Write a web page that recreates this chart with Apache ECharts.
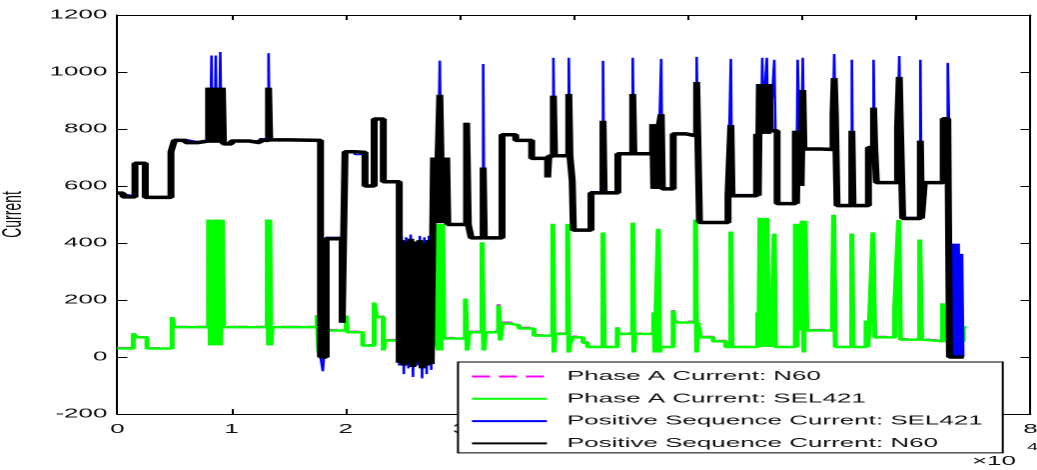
<!DOCTYPE html>
<html><head><meta charset="utf-8">
<script src="https://cdn.jsdelivr.net/npm/echarts@6/dist/echarts.min.js"></script>
<style>
html,body{margin:0;padding:0;background:#fff;overflow:hidden;}
#wrap{width:1037px;height:470px;overflow:hidden;position:relative;background:#fff;}
#chart{width:519px;height:470px;transform:scaleX(1.998073);transform-origin:0 0;}
</style></head><body>
<div id="wrap"><div id="chart"></div></div>
<script>
// ---- data (x in units of 10^4) ----
const xTicks = [0, 1, 2, 3, 4, 5, 6, 7, 8];
const yTicks = [-200, 0, 200, 400, 600, 800, 1000, 1200];
const seriesNames = ['Phase A Current: N60', 'Phase A Current: SEL421', 'Positive Sequence Current: SEL421', 'Positive Sequence Current: N60'];

// positive-sequence step points: x where a level starts
const posX = [0.00,0.05,0.155,0.245,0.47,0.50,0.60,0.70,0.80,0.815,0.825,0.835,0.845,0.855,0.862,0.872,0.882,0.892,0.902,0.912,0.92,0.93,1.00,1.15,1.25,1.325,1.335,1.50,1.78,1.80,1.81,1.83,1.97,1.995,2.08,2.17,2.25,2.33,2.47,2.49,2.51,2.53,2.55,2.57,2.59,2.61,2.63,2.65,2.67,2.69,2.71,2.73,2.75,2.77,2.78,2.79,2.80,2.81,2.825,2.835,2.85,2.86,2.875,2.885,2.895,3.06,3.075,3.10,3.205,3.215,3.37,3.49,3.63,3.77,3.78,3.82,3.83,3.955,3.965,3.985,3.995,4.15,4.255,4.265,4.385,4.515,4.525,4.69,4.70,4.71,4.72,4.73,4.74,4.75,4.765,4.775,4.87,4.98,5.075,5.085,5.10,5.35,5.375,5.385,5.60,5.615,5.625,5.64,5.65,5.66,5.675,5.69,5.70,5.71,5.72,5.755,5.765,5.78,5.94,5.95,5.96,5.975,5.99,6.005,6.015,6.16,6.27,6.28,6.29,6.305,6.435,6.445,6.58,6.625,6.635,6.65,6.835,6.85,6.86,6.88,7.035,7.045,7.07,7.235,7.275,7.285,7.29,7.30,7.31,7.32,7.33,7.34,7.35,7.36,7.37,7.38,7.385,7.395,7.40,7.41,7.415];
const posSeqN60 = [575,562,680,560,720,760,752,758,945,752,945,752,945,752,945,752,945,752,945,752,945,748,758,752,760,945,762,760,0,0,0,415,120,720,718,600,835,615,-20,410,-30,405,-25,415,-35,405,-20,410,-40,400,-30,410,-25,700,470,700,470,700,920,700,470,700,470,700,465,822,465,418,665,418,780,760,697,630,705,917,706,923,706,618,445,576,829,576,713,923,713,817,590,817,590,817,590,817,852,590,783,776,965,776,472,566,814,566,783,566,958,783,958,783,958,958,783,958,794,794,794,538,794,538,794,794,600,937,730,728,852,979,852,531,794,531,735,875,735,612,805,983,805,486,759,486,612,836,836,836,0,0,0,0,0,0,0,0,0,0,0,0,0,0,0];
const posSeqSEL421 = [572,566,678,563,722,763,756,761,945,752,1058,752,945,752,1058,752,945,752,1070,752,945,752,761,757,766,1066,765,762,0,-50,0,420,120,722,710,603,838,618,-30,425,-60,420,-40,430,-70,330,-30,425,-75,420,-60,425,-45,700,470,700,470,700,1040,700,470,700,470,700,468,822,468,421,1028,421,783,758,700,630,707,1050,708,1050,708,618,448,580,1039,580,716,1050,716,817,590,817,590,817,590,817,1046,593,786,780,1053,780,475,570,1046,570,783,566,958,783,1050,783,958,1050,783,958,794,1043,794,541,794,538,1043,794,600,1050,733,732,852,1063,852,535,1043,535,735,1043,735,615,805,1056,805,490,1043,490,615,836,1032,836,398,0,398,0,398,0,398,0,398,0,362,0,362,0,0];

// phase A step points
const phaseX = [0.00,0.14,0.17,0.26,0.48,0.495,0.80,0.815,0.83,0.845,0.86,0.875,0.89,0.905,0.92,0.93,1.315,1.325,1.335,1.345,1.355,1.50,1.51,1.75,1.765,1.78,1.83,2.005,2.015,2.15,2.25,2.27,2.33,2.345,2.47,2.80,2.81,2.82,2.835,2.85,2.86,3.05,3.065,3.08,3.195,3.21,3.225,3.34,3.355,3.37,3.45,3.52,3.65,3.815,3.825,3.835,3.945,3.955,3.965,3.99,4.08,4.12,4.255,4.265,4.38,4.39,4.515,4.525,4.535,4.70,4.71,4.72,4.74,4.75,4.76,4.87,4.88,5.065,5.075,5.085,5.11,5.22,5.33,5.375,5.385,5.61,5.62,5.63,5.645,5.66,5.675,5.69,5.705,5.715,5.73,5.755,5.765,5.94,5.955,5.965,5.98,6.00,6.015,6.025,6.04,6.265,6.275,6.29,6.435,6.445,6.56,6.575,6.59,6.62,6.635,6.81,6.845,6.86,7.03,7.045,7.06,7.23,7.26,7.41,7.44];
const phaseASEL421 = [30,83,69,30,140,105,482,41,482,41,482,41,482,41,482,105,482,41,482,41,105,100,105,146,16,105,93,145,87,40,191,140,23,58,40,467,23,467,23,467,65,205,23,87,402,23,87,181,58,117,110,100,75,467,16,81,467,16,48,69,50,35,437,35,104,81,471,16,81,156,16,156,450,16,35,163,121,482,16,121,69,55,35,440,35,156,35,488,35,488,35,488,35,156,35,433,35,467,35,467,93,478,16,478,93,174,499,35,433,35,128,35,128,437,69,170,480,61,412,61,55,188,55,104,104];
const phaseAN60 = [32,83,70,31,140,106,482,41,482,41,482,41,482,41,482,106,482,41,482,41,106,101,106,146,16,106,95,145,89,42,191,142,23,60,40,467,23,467,23,467,67,205,23,89,402,23,89,185,58,121,113,103,77,467,16,83,467,16,48,72,52,36,437,36,104,83,471,16,83,158,16,158,450,16,36,165,124,482,16,124,71,57,36,440,36,156,35,488,35,488,35,488,35,156,36,433,36,467,35,467,93,478,16,478,95,174,499,36,433,36,128,35,128,437,71,170,480,63,412,63,57,188,57,104,104];

// ---- chart ----
const SX = 1037 / 519;
const FONT = "'Liberation Sans', Arial, Helvetica, sans-serif";
const chart = echarts.init(document.getElementById('chart'), null, {renderer: 'canvas', devicePixelRatio: 2});

// step-function path: each level holds from its x until the next x
function stepPairs(xs, ys) {
  const out = [];
  for (let i = 0; i < xs.length; i++) {
    if (i > 0) out.push([xs[i], ys[i - 1]]);
    out.push([xs[i], ys[i]]);
  }
  return out;
}
const axisCommon = {
  type: 'value',
  axisLine: {show: true, onZero: false, lineStyle: {color: '#000', width: 1}},
  splitLine: {show: false},
};
const lineSeries = (name, xs, ys, color, width, dash) => ({
  name, type: 'line', data: stepPairs(xs, ys),
  showSymbol: false, symbol: 'none', animation: false, clip: true,
  lineStyle: {color, width, type: dash || 'solid', join: 'bevel'}, itemStyle: {color}
});

chart.setOption({
  backgroundColor: '#fff',
  animation: false,
  grid: {left: 117.3 / SX, right: 519 - 1030.5 / SX, top: 15, bottom: 56, containLabel: false, outerBoundsMode: 'none'},
  xAxis: [
    Object.assign({}, axisCommon, {min: xTicks[0], max: xTicks[xTicks.length - 1], interval: 1, position: 'bottom',
      axisTick: {inside: true, length: 5, lineStyle: {color: '#000'}},
      axisLabel: {margin: 9, fontSize: 13, fontFamily: FONT, color: '#111', formatter: v => String(v)}}),
    Object.assign({}, axisCommon, {min: xTicks[0], max: xTicks[xTicks.length - 1], interval: 1, position: 'top',
      axisTick: {inside: true, length: 5, lineStyle: {color: '#000'}}, axisLabel: {show: false}})
  ],
  yAxis: [
    Object.assign({}, axisCommon, {min: yTicks[0], max: yTicks[yTicks.length - 1], interval: 200, position: 'left',
      axisTick: {inside: true, length: 5, lineStyle: {color: '#000'}},
      axisLabel: {margin: 5, fontSize: 13, fontFamily: FONT, color: '#111', formatter: v => String(v)},
      name: 'Current', nameLocation: 'middle', nameGap: 33,
      nameTextStyle: {fontSize: 14, fontFamily: FONT, color: '#111'}}),
    Object.assign({}, axisCommon, {min: yTicks[0], max: yTicks[yTicks.length - 1], interval: 200, position: 'right',
      axisTick: {inside: true, length: 5, lineStyle: {color: '#000'}}, axisLabel: {show: false}})
  ],
  legend: {
    data: seriesNames, orient: 'vertical', left: 458 / SX, top: 362,
    backgroundColor: '#fff', borderColor: '#000', borderWidth: 1, borderRadius: 0,
    padding: [8, 10, 3, 6], itemWidth: 37.5, itemHeight: 14, itemGap: 9.3,
    itemStyle: {color: 'transparent', borderColor: 'transparent', borderWidth: 0, opacity: 0},
    textStyle: {fontSize: 13, fontFamily: FONT, color: '#111', padding: [0, 0, 0, 5]},
    selectedMode: false
  },
  series: [
    lineSeries(seriesNames[0], phaseX, phaseAN60, '#ff00ff', 2, [9, 4.5]),
    lineSeries(seriesNames[1], phaseX, phaseASEL421, '#00ff00', 2.5),
    lineSeries(seriesNames[2], posX, posSeqSEL421, '#0000ff', 1.3),
    lineSeries(seriesNames[3], posX, posSeqN60, '#000000', 3.5)
  ],
  graphic: [
    {type: 'text', left: 972 / SX, top: 455, z: 100,
     style: {text: '×10', fontSize: 13, fontFamily: FONT, fill: '#111'}},
    {type: 'text', left: 1027 / SX, top: 442, z: 100,
     style: {text: '4', fontSize: 10, fontFamily: FONT, fill: '#111'}}
  ]
});
</script>
</body></html>
